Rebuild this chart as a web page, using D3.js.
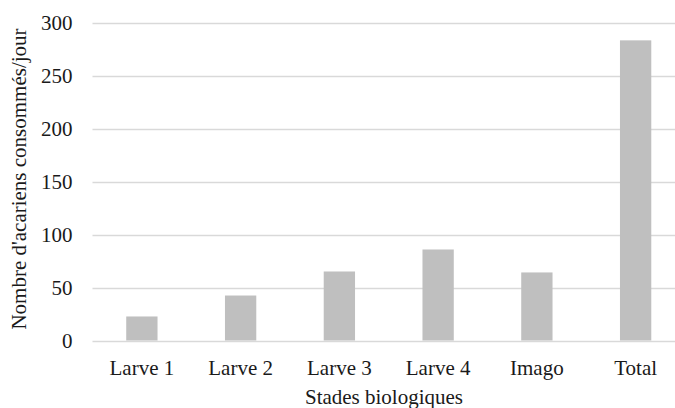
<!DOCTYPE html>
<html>
<head>
<meta charset="utf-8">
<script src="https://cdn.jsdelivr.net/npm/d3@7"></script>
</head>
<body style="margin:0">
<svg id="chart" width="675" height="408"></svg>
<script>
// Daily predation per developmental stage
const stages = ["Larve 1", "Larve 2", "Larve 3", "Larve 4", "Imago", "Total"];
const consumed = [22.7, 42.5, 65.2, 86.0, 64.3, 283.6];
const yTicks = [0, 50, 100, 150, 200, 250, 300];
const xTitle = "Stades biologiques";
const yTitle = "Nombre d'acariens consommés/jour";

const svg = d3.select("#chart");
const fontSize = 21;
const ink = "#1a1a1a";

// shared text styling: Times-metric serif
const label = sel => sel
  .style("font-family", "'Times New Roman', 'Liberation Serif', Tinos, serif")
  .attr("font-size", fontSize)
  .attr("fill", ink);

const x = d3.scaleBand()
  .domain(stages)
  .range([92.5, 685])
  .paddingInner(0.683)
  .paddingOuter(0.3415);

const y = d3.scaleLinear()
  .domain([0, 300])
  .range([340.5, 23]);

// horizontal gridlines (the zero line doubles as the category axis)
svg.append("g")
  .selectAll("line")
  .data(yTicks)
  .join("line")
  .attr("x1", 92.5)
  .attr("x2", 685)
  .attr("y1", d => Math.round(y(d)) + 0.5)
  .attr("y2", d => Math.round(y(d)) + 0.5)
  .attr("stroke", "#d9d9d9")
  .attr("stroke-width", 1.3);

// bars
svg.append("g")
  .selectAll("rect")
  .data(stages.map((s, i) => ({ stage: s, value: consumed[i] })))
  .join("rect")
  .attr("x", d => x(d.stage))
  .attr("width", x.bandwidth())
  .attr("y", d => y(d.value))
  .attr("height", d => y(0) - y(d.value))
  .attr("fill", "#bfbfbf");

// y tick labels
svg.append("g")
  .selectAll("text")
  .data(yTicks)
  .join("text")
  .attr("x", 72.5)
  .attr("y", d => y(d))
  .attr("dy", "0.35em")
  .attr("text-anchor", "end")
  .call(label)
  .text(d => d);

// category labels
svg.append("g")
  .selectAll("text")
  .data(stages)
  .join("text")
  .attr("x", d => x(d) + x.bandwidth() / 2)
  .attr("y", 374.5)
  .attr("text-anchor", "middle")
  .call(label)
  .text(d => d);

// axis titles
svg.append("text")
  .attr("x", 384)
  .attr("y", 404)
  .attr("text-anchor", "middle")
  .call(label)
  .text(xTitle);

svg.append("text")
  .attr("transform", "translate(26,179) rotate(-90)")
  .attr("text-anchor", "middle")
  .call(label)
  .text(yTitle);
</script>
</body>
</html>
